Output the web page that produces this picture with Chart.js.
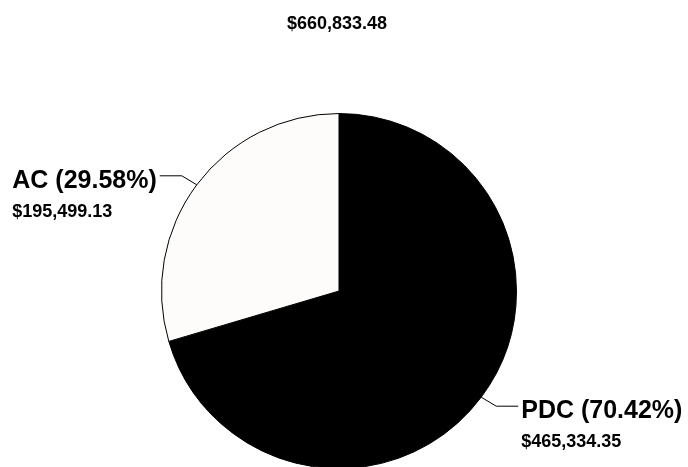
<!DOCTYPE html>
<html>
<head>
<meta charset="utf-8">
<script src="https://cdn.jsdelivr.net/npm/chart.js@4/dist/chart.umd.min.js"></script>
<style>
  html, body { margin: 0; padding: 0; background: #ffffff; }
  .wrap { width: 688px; height: 467px; overflow: hidden; position: relative; }
  .inner { width: 688px; height: 582px; }
</style>
</head>
<body>
<div class="wrap"><div class="inner"><canvas id="pieChart" width="688" height="582"></canvas></div></div>
<script>
const categories = ['PDC', 'AC'];
const amounts = [465334.35, 195499.13];
const sliceColors = ['#000000', '#fdfcfa'];

const FONT = "'Liberation Sans', Arial, sans-serif";

function money(v) {
    return '$' + v.toLocaleString('en-US', { minimumFractionDigits: 2, maximumFractionDigits: 2 });
}

const total = amounts.reduce((a, b) => a + b, 0);

// --- draws the total on top and the leader-line labels ---
const calloutPlugin = {
    id: 'callouts',
    afterDraw(chart) {
        const ctx = chart.ctx;
        const meta = chart.getDatasetMeta(0);
        ctx.save();

        ctx.fillStyle = '#000';
        ctx.font = 'bold 18px ' + FONT;
        ctx.textAlign = 'center';
        ctx.textBaseline = 'alphabetic';
        ctx.fillText(money(total), 337, 29);

        meta.data.forEach((arc, i) => {
            const mid = (arc.startAngle + arc.endAngle) / 2;
            const ex = arc.x + Math.cos(mid) * arc.outerRadius;
            const ey = arc.y + Math.sin(mid) * arc.outerRadius;
            const right = Math.cos(mid) >= 0;
            const dir = right ? 1 : -1;
            const bx = ex + dir * 15;
            const by = ey + (Math.sin(mid) >= 0 ? 9 : -9);
            const lx = bx + dir * 22;

            ctx.strokeStyle = '#000';
            ctx.lineWidth = 1;
            ctx.beginPath();
            ctx.moveTo(ex, ey);
            ctx.lineTo(bx, by);
            ctx.lineTo(lx, by);
            ctx.stroke();

            const pct = (amounts[i] / total * 100).toFixed(2);
            const label = categories[i] + ' (' + pct + '%)';
            ctx.font = 'bold 25px ' + FONT;
            const w = ctx.measureText(label).width;
            const left = right ? lx + 3 : lx - 3 - w;
            ctx.textAlign = 'left';
            ctx.fillText(label, left, by + 12);
            ctx.font = 'bold 18px ' + FONT;
            ctx.fillText(money(amounts[i]), left, by + 41);
        });
        ctx.restore();
    }
};

const ctx = document.getElementById('pieChart').getContext('2d');
new Chart(ctx, {
    type: 'pie',
    data: {
        labels: categories,
        datasets: [{
            data: amounts,
            backgroundColor: sliceColors,
            borderColor: '#000000',
            borderWidth: 1
        }]
    },
    options: {
        responsive: false,
        animation: false,
        layout: {
            padding: { top: 113, bottom: 113, left: 0, right: 10 }
        },
        plugins: {
            legend: { display: false },
            tooltip: { enabled: false }
        }
    },
    plugins: [calloutPlugin]
});
</script>
</body>
</html>
